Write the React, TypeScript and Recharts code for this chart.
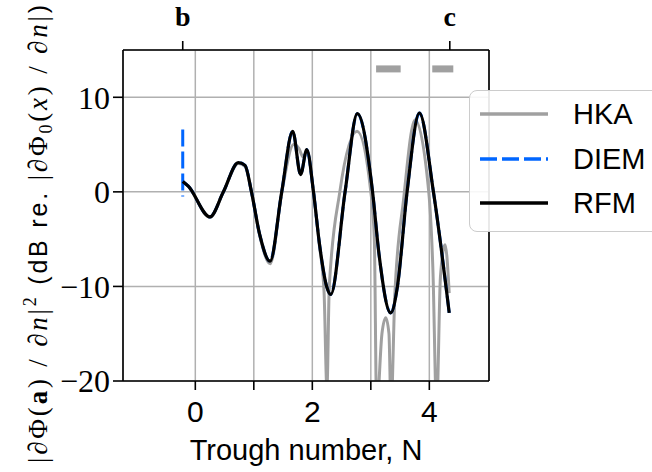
import React from "react";
import {
  LineChart,
  Line,
  XAxis,
  YAxis,
  CartesianGrid,
  ReferenceLine,
  Legend,
} from "recharts";

// x range and ticks
const xDomain = [-1.236, 5.02];
const yDomain = [-20, 15];
const bottomTicks = [0, 1, 2, 3, 4];
const leftTicks = [-20, -10, 0, 10];
const topTicks = [-0.215, 4.35];
const topLabels = ["b", "c"];

// RFM (black)
const rfmX = [-0.215, -0.12, 0.25, 0.48, 0.735, 0.85, 0.96, 1.1, 1.277, 1.477, 1.665, 1.8, 1.905, 2.02, 2.12, 2.245, 2.315, 2.56, 2.77, 3.03, 3.14, 3.34, 3.455, 3.62, 3.83, 4.07, 4.34];
const rfmY = [1.1, 0.6, -2.65, 0, 3.1, 2.8, 0, -4.5, -7.33, 0, 6.4, 1.83, 4.47, 0, -5.4, -10, -10.85, 0, 8.27, 0, -6.6, -12.8, -10, 0, 8.34, 0, -12.8];

// DIEM (blue dashed) - mostly under RFM
const diemX = [-0.215, -0.12, 0.25, 0.48, 0.735, 0.85, 0.96, 1.1, 1.277, 1.477, 1.665, 1.8, 1.905, 2.02, 2.12, 2.245, 2.315, 2.56, 2.77, 3.03, 3.14, 3.34, 3.455, 3.62, 3.83, 4.07, 4.35];
const diemY = [1.1, 0.6, -2.65, 0, 3.1, 2.8, 0, -4.5, -7.33, 0, 6.4, 1.83, 4.47, 0, -5.4, -10, -10.85, 0, 8.27, 0, -6.6, -12.8, -10, 0, 8.34, 0, -13.3];
const diemStartX = [-0.215, -0.215];
const diemStartY = [6.6, -0.5];

// HKA (gray)
const hkaX = [-0.215, -0.12, 0.25, 0.48, 0.735, 0.85, 0.96, 1.1, 1.28, 1.48, 1.68, 1.77, 1.84, 1.91, 2.02, 2.12, 2.2, 2.25, 2.29, 2.47, 2.765, 3.0, 3.06, 3.1, 3.19, 3.255, 3.31, 3.345, 3.41, 3.56, 3.755, 3.99, 4.06, 4.125, 4.19, 4.27, 4.34];
const hkaY = [1.1, 0.6, -2.7, 0, 3.0, 2.7, 0, -4.6, -7.6, 0, 5.0, 4.6, 3.7, 4.3, 0, -5.6, -10.5, -20.8, -10, 0, 6.4, 0, -5, -23, -15, -13.3, -15, -23, -11, -0.8, 7.6, 0, -8, -23, -9, -5.6, -10.7];

// gray bars along the top
const maskStart = [3.09, 4.05];
const maskEnd = [3.51, 4.41];
const maskLevel = 13;

const toPoints = (xs: number[], ys: number[]) => xs.map((x, i) => ({ x, y: ys[i] }));

const rfmData = toPoints(rfmX, rfmY);
const diemData = toPoints(diemX, diemY);
const diemStart = toPoints(diemStartX, diemStartY);
const hkaData = toPoints(hkaX, hkaY);

const serif = "'Liberation Serif', serif";
const sans = "'Liberation Sans', sans-serif";
const GRAY = "#a0a0a0";
const BLUE = "#0066ff";

const fmtY = (v: number) => (v < 0 ? "\u2212" + Math.abs(v) : String(v));

function YLabel() {
  return (
    <text
      transform="rotate(-90)"
      x={-234}
      y={47}
      textAnchor="middle"
      fontSize={27}
      fill="#000"
      textLength={458}
      lengthAdjust="spacing"
    >
      <tspan fontFamily={serif}>|∂Φ(</tspan>
      <tspan fontFamily={serif} fontWeight="bold">a</tspan>
      <tspan fontFamily={serif}>) / ∂</tspan>
      <tspan fontFamily={serif} fontStyle="italic">n</tspan>
      <tspan fontFamily={serif}>|</tspan>
      <tspan fontFamily={serif} fontSize={18} dy={-11}>2</tspan>
      <tspan fontFamily={sans} fontSize={25} dy={11}> (dB re. </tspan>
      <tspan fontFamily={serif}>|∂Φ</tspan>
      <tspan fontFamily={serif} fontSize={18} dy={5}>0</tspan>
      <tspan fontFamily={serif} dy={-5}>(</tspan>
      <tspan fontFamily={serif} fontStyle="italic">x</tspan>
      <tspan fontFamily={serif}>) / ∂</tspan>
      <tspan fontFamily={serif} fontStyle="italic">n</tspan>
      <tspan fontFamily={serif}>|</tspan>
      <tspan fontFamily={sans} fontSize={25}>)</tspan>
    </text>
  );
}

const legendItems = [
  { name: "HKA", color: GRAY, dash: undefined },
  { name: "DIEM", color: BLUE, dash: "17 5" },
  { name: "RFM", color: "#000", dash: undefined },
];

function LegendBox() {
  return (
    <div
      style={{
        position: "relative",
        width: 200,
        height: 142,
        boxSizing: "border-box",
        border: "1.5px solid #cccccc",
        borderRadius: 8,
        background: "rgba(255,255,255,0.9)",
      }}
    >
      {legendItems.map((it, i) => (
        <div key={it.name} style={{ position: "absolute", left: 0, top: 22.7 + i * 44.8 - 20, height: 40, width: 200 }}>
          <svg width={80} height={40} style={{ position: "absolute", left: 10, top: 0 }}>
            <line x1={0} y1={20} x2={68} y2={20} stroke={it.color} strokeWidth={3.5} strokeDasharray={it.dash} />
          </svg>
          <span
            style={{
              position: "absolute",
              left: 103,
              top: 3,
              fontFamily: sans,
              fontSize: 29,
              lineHeight: "34px",
              color: "#000",
            }}
          >
            {it.name}
          </span>
        </div>
      ))}
    </div>
  );
}

export default function App() {
  return (
    <div style={{ position: "fixed", left: 0, top: 0, width: 652, height: 472, overflow: "hidden", background: "#fff" }}>
      <LineChart width={652} height={472} margin={{ top: 10, right: 162, bottom: 6, left: 63 }}>
        <CartesianGrid stroke="#b0b0b0" strokeWidth={1.5} />
        <XAxis
          type="number"
          dataKey="x"
          domain={xDomain}
          ticks={bottomTicks}
          interval={0}
          allowDataOverflow
          height={85}
          tickSize={9}
          tickMargin={11}
          tickFormatter={(v: number) => (v % 2 === 0 ? String(v) : "")}
          axisLine={{ stroke: "#000", strokeWidth: 1.6 }}
          tickLine={{ stroke: "#000", strokeWidth: 1.6 }}
          tick={{ fontFamily: sans, fontSize: 30, fill: "#000" }}
          label={{ value: "Trough number, N", position: "insideBottom", offset: 6, fontFamily: sans, fontSize: 29, fill: "#000" }}
        />
        <XAxis
          xAxisId="top"
          orientation="top"
          type="number"
          dataKey="x"
          domain={xDomain}
          ticks={topTicks}
          interval={0}
          allowDataOverflow
          height={40}
          tickSize={9}
          tickMargin={15}
          tickFormatter={(v: number) => topLabels[topTicks.indexOf(v)] ?? ""}
          axisLine={{ stroke: "#000", strokeWidth: 1.6 }}
          tickLine={{ stroke: "#000", strokeWidth: 1.6 }}
          tick={{ fontFamily: serif, fontWeight: "bold", fontSize: 28, fill: "#000" }}
        />
        <YAxis
          type="number"
          domain={yDomain}
          ticks={leftTicks}
          interval={0}
          allowDataOverflow
          width={60}
          tickSize={10}
          tickMargin={3}
          tickFormatter={fmtY}
          axisLine={{ stroke: "#000", strokeWidth: 1.6 }}
          tickLine={{ stroke: "#000", strokeWidth: 1.6 }}
          tick={{ fontFamily: serif, fontSize: 32, fill: "#000" }}
          label={<YLabel />}
        />
        <YAxis
          yAxisId="right"
          orientation="right"
          type="number"
          domain={yDomain}
          allowDataOverflow
          width={1}
          tick={false}
          tickLine={false}
          axisLine={{ stroke: "#000", strokeWidth: 1.6 }}
        />
        {maskStart.map((s, i) => (
          <ReferenceLine
            key={"mask" + i}
            segment={[
              { x: s, y: maskLevel },
              { x: maskEnd[i], y: maskLevel },
            ]}
            stroke={GRAY}
            strokeWidth={7}
          />
        ))}
        <Line data={hkaData} dataKey="y" type="monotone" stroke={GRAY} strokeWidth={3} dot={false} activeDot={false} isAnimationActive={false} />
        <Line data={diemStart} dataKey="y" type="linear" stroke={BLUE} strokeWidth={3} strokeDasharray="17 5" dot={false} activeDot={false} isAnimationActive={false} />
        <Line data={diemData} dataKey="y" type="monotone" stroke={BLUE} strokeWidth={3} strokeDasharray="17 5" dot={false} activeDot={false} isAnimationActive={false} />
        <Line data={rfmData} dataKey="y" type="monotone" stroke="#000" strokeWidth={3.2} dot={false} activeDot={false} isAnimationActive={false} />
        <Legend
          layout="vertical"
          align="center"
          verticalAlign="middle"
          content={() => <LegendBox />}
          wrapperStyle={{ left: 469, top: 90, width: 200, height: 142 }}
        />
      </LineChart>
    </div>
  );
}
